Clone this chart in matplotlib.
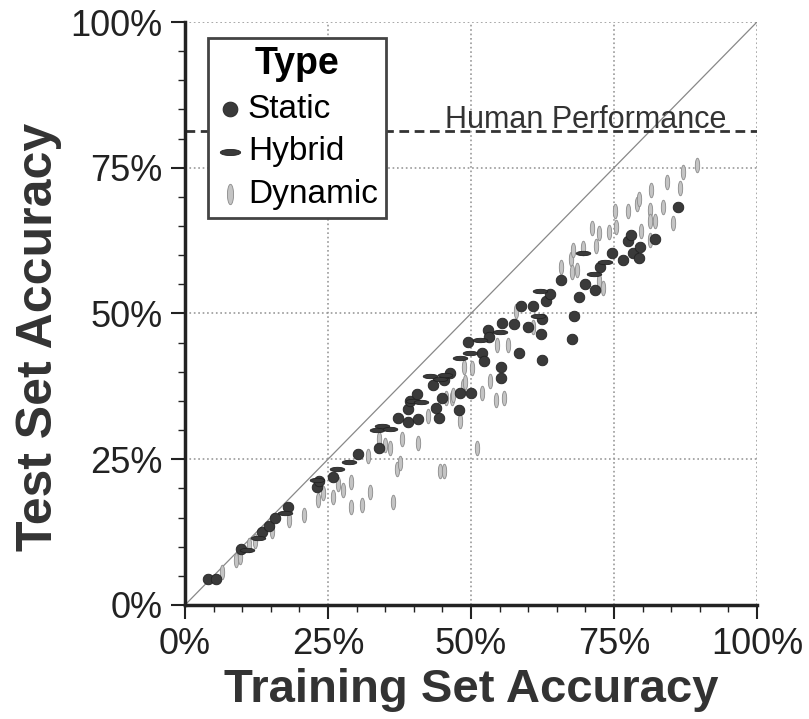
import numpy as np
import matplotlib
matplotlib.use("Agg")
import matplotlib.pyplot as plt
from matplotlib.ticker import MultipleLocator, FuncFormatter

plt.rcParams['font.family'] = ['Liberation Sans', 'DejaVu Sans']

# training / test accuracy (%)
static_train = [4.1, 5.4, 9.8, 13.4, 14.6, 15.7, 18.0, 23.0, 23.5, 25.8, 30.2, 33.9, 37.2, 38.9,
                39.0, 39.3, 40.6, 40.8, 43.4, 44.4, 43.9, 44.9, 45.3, 46.3, 47.9, 48.1, 50.0,
                49.5, 51.9, 52.3, 52.9, 53.2, 55.3, 55.3, 55.4, 57.6, 58.4, 58.7, 60.0, 60.8,
                62.2, 62.4, 62.5, 63.2, 63.8, 65.7, 67.6, 68.0, 68.8, 70.0, 71.6, 72.6, 74.7,
                76.6, 77.5, 77.9, 78.4, 79.3, 79.5, 82.2, 86.2]
static_test = [4.5, 4.5, 9.6, 12.6, 13.5, 15.0, 16.8, 20.2, 21.2, 22.0, 25.9, 27.0, 32.0, 31.3,
               33.6, 35.0, 36.2, 31.9, 37.8, 32.1, 33.8, 35.5, 38.6, 39.8, 33.5, 36.3, 36.4,
               45.1, 43.2, 41.9, 47.2, 45.9, 40.8, 39.0, 48.4, 48.2, 43.2, 51.2, 47.6, 51.2,
               46.4, 42.1, 49.0, 52.2, 53.3, 55.7, 45.7, 49.6, 52.8, 55.1, 54.0, 57.9, 60.4,
               59.1, 62.4, 63.5, 60.3, 59.5, 61.4, 62.8, 68.3]

hybrid_train = [10.8, 12.7, 17.4, 23.0, 26.5, 28.7, 33.5, 34.5, 35.8, 39.9, 41.3, 42.8, 44.6,
                45.5, 48.1, 49.8, 51.6, 55.1, 61.8, 62.1, 69.6, 71.5, 73.4]
hybrid_test = [9.5, 11.5, 15.7, 21.4, 23.4, 24.5, 30.0, 30.7, 30.2, 35.0, 34.9, 39.2, 38.8,
               39.5, 42.3, 43.2, 45.5, 46.9, 49.6, 53.9, 60.4, 56.8, 58.9]

dynamic_train = [6.4, 9.0, 9.6, 11.1, 12.2, 15.2, 18.1, 20.8, 23.3, 24.2, 25.9, 26.8, 27.6, 29.1,
                 29.1, 31.0, 32.3, 32.0, 33.9, 35.0, 35.9, 36.3, 37.0, 37.6, 37.9, 40.8, 42.4,
                 44.6, 45.2, 45.7, 46.6, 46.9, 48.1, 48.6, 49.0, 48.8, 50.1, 51.1, 51.9, 53.3,
                 54.4, 55.7, 54.5, 56.5, 57.9, 60.9, 65.8, 67.5, 67.6, 67.9, 68.5, 69.5, 71.1,
                 71.9, 72.3, 72.3, 73.1, 74.2, 75.1, 75.3, 77.5, 79.0, 79.3, 79.8, 81.3, 81.4,
                 81.3, 81.3, 82.2, 83.5, 84.2, 85.3, 86.5, 87.1, 89.6]
dynamic_test = [5.7, 7.7, 8.3, 10.3, 10.9, 12.7, 14.6, 15.4, 18.0, 19.2, 18.5, 20.8, 19.7, 21.1,
                16.8, 17.1, 19.4, 25.5, 28.5, 27.5, 27.0, 17.7, 23.3, 24.3, 28.4, 27.7, 32.5,
                23.0, 23.0, 35.5, 35.5, 36.0, 31.5, 37.6, 38.3, 40.9, 40.6, 27.0, 36.3, 38.5,
                35.2, 35.5, 44.6, 44.6, 50.5, 47.7, 57.9, 59.4, 57.2, 60.9, 57.5, 61.3, 64.6,
                61.5, 63.8, 55.5, 54.3, 64.0, 67.6, 64.8, 67.5, 68.8, 69.7, 64.2, 62.6, 71.1,
                67.8, 65.8, 65.8, 68.2, 72.6, 65.5, 71.5, 74.3, 75.5]

human_perf = 81.3

# ellipse markers
t = np.linspace(0, 2 * np.pi, 40)
horiz = np.c_[np.cos(t), 0.3 * np.sin(t)]
vert = np.c_[0.3 * np.cos(t), np.sin(t)]

fig = plt.figure(figsize=(8.09, 7.19), dpi=100)
ax = fig.add_axes([0.2287, 0.1586, 0.707, 0.8108])

ax.plot([0, 100], [0, 100], color='#888888', lw=0.9, zorder=1)
ax.axhline(human_perf, color='#333333', lw=2, ls=(0, (3.5, 2)), zorder=1)
ax.text(70, human_perf + 0.6, 'Human Performance', ha='center', va='baseline',
        fontsize=22, color='#333333')

ax.scatter(static_train, static_test, s=58, marker='o', color='#3a3a3a',
           edgecolor='#222222', lw=0.6, label='Static', zorder=3)
ax.scatter(hybrid_train, hybrid_test, s=110, marker=horiz, color='#3a3a3a',
           edgecolor='#222222', lw=0.6, label='Hybrid', zorder=3)
ax.scatter(dynamic_train, dynamic_test, s=110, marker=vert, color='#c4c4c4',
           edgecolor='#8a8a8a', lw=0.6, label='Dynamic', zorder=2)

ax.set_xlim(0, 100)
ax.set_ylim(0, 100)
for s in ['top', 'right']:
    ax.spines[s].set_visible(False)
for s in ['left', 'bottom']:
    ax.spines[s].set_linewidth(2.5)
    ax.spines[s].set_color('#222222')

ax.xaxis.set_major_locator(MultipleLocator(25))
ax.yaxis.set_major_locator(MultipleLocator(25))
ax.xaxis.set_minor_locator(MultipleLocator(5))
ax.yaxis.set_minor_locator(MultipleLocator(5))
pct = FuncFormatter(lambda v, p: '%d%%' % v)
ax.xaxis.set_major_formatter(pct)
ax.yaxis.set_major_formatter(pct)
ax.tick_params(which='major', length=10, width=1.5, labelsize=26, colors='#222222', pad=6)
ax.tick_params(which='minor', length=5, width=1, colors='#222222')
ax.grid(True, which='major', color='#999999', ls=':', lw=1.2)
ax.set_axisbelow(True)

ax.set_xlabel('Training Set Accuracy', fontsize=34, fontweight='bold', color='#333333', labelpad=4)
ax.set_ylabel('Test Set Accuracy', fontsize=36, fontweight='bold', color='#333333')
ax.yaxis.set_label_coords(-0.215, 0.46)

leg = ax.legend(loc='upper left', bbox_to_anchor=(0.04, 0.973), borderaxespad=0,
                title='Type', fontsize=24, title_fontproperties={'size': 27, 'weight': 'bold'},
                frameon=True, fancybox=False, framealpha=1, edgecolor='#444444',
                handletextpad=0.15, handlelength=0.8, labelspacing=0.35, borderpad=0.25,
                markerscale=1.4)
leg.get_frame().set_linewidth(2)

fig.savefig('out.png', dpi=100)
